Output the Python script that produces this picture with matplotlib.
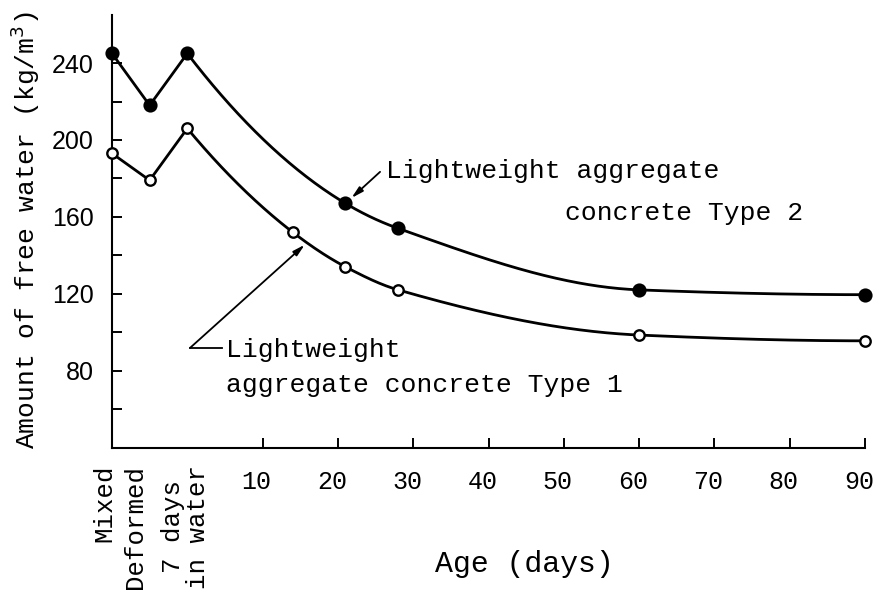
import numpy as np
import matplotlib
matplotlib.use("Agg")
import matplotlib.pyplot as plt
import matplotlib.transforms as mtransforms

# x positions: Mixed=-10, Deformed=-5, 7 days in water=0, then age in days
type1_x = [-10, -5, 0, 14, 21, 28, 60, 90]
type1_y = [193, 179, 206, 152, 134, 122, 98.5, 95.5]
type2_x = [-10, -5, 0, 21, 28, 60, 90]
type2_y = [245, 218, 245, 167, 154, 122, 119.5]

stage_labels = ["Mixed", "Deformed", "7 days\nin water"]
stage_label_x = [-11.0, -6.9, -0.3]
day_ticks = [10, 20, 30, 40, 50, 60, 70, 80, 90]
y_ticks = [60, 80, 100, 120, 140, 160, 180, 200, 220, 240]

plt.rcParams['font.family'] = ['Liberation Mono', 'DejaVu Sans']


def pchip(x, y, xs):
    # monotone cubic through the measured points, only used to draw the line
    x = np.asarray(x, float)
    y = np.asarray(y, float)
    h = np.diff(x)
    d = np.diff(y) / h
    m = np.zeros_like(y)
    for k in range(1, len(x) - 1):
        if d[k - 1] * d[k] > 0:
            w1 = 2 * h[k] + h[k - 1]
            w2 = h[k] + 2 * h[k - 1]
            m[k] = (w1 + w2) / (w1 / d[k - 1] + w2 / d[k])
    m[0] = ((2 * h[0] + h[1]) * d[0] - h[0] * d[1]) / (h[0] + h[1])
    if np.sign(m[0]) != np.sign(d[0]):
        m[0] = 0
    m[-1] = ((2 * h[-1] + h[-2]) * d[-1] - h[-1] * d[-2]) / (h[-1] + h[-2])
    if np.sign(m[-1]) != np.sign(d[-1]):
        m[-1] = 0
    out = np.empty_like(xs)
    idx = np.clip(np.searchsorted(x, xs) - 1, 0, len(x) - 2)
    for j, xv in enumerate(xs):
        k = idx[j]
        t = (xv - x[k]) / h[k]
        h00 = 2 * t**3 - 3 * t**2 + 1
        h10 = t**3 - 2 * t**2 + t
        h01 = -2 * t**3 + 3 * t**2
        h11 = t**3 - t**2
        out[j] = h00 * y[k] + h10 * h[k] * m[k] + h01 * y[k + 1] + h11 * h[k] * m[k + 1]
    return out


def draw_series(ax, xs, ys, face):
    xs = np.asarray(xs, float)
    ys = np.asarray(ys, float)
    # straight segments before immersion, smooth curve afterwards
    early = xs <= 0
    ax.plot(xs[early], ys[early], color='black', lw=2.0, zorder=2)
    late = xs >= 0
    xx = np.linspace(0, xs[late][-1], 400)
    ax.plot(xx, pchip(xs[late], ys[late], xx), color='black', lw=2.0, zorder=2)
    ax.plot(xs, ys, 'o', ms=8.5 if face == 'black' else 7.5, mfc=face,
            mec='black', mew=1.7, zorder=3, clip_on=False)


fig = plt.figure(figsize=(8.77, 5.94), dpi=100)
ax = fig.add_axes([112 / 877, 1 - 447.5 / 594, (865 - 112) / 877, (447.5 - 15) / 594])

draw_series(ax, type1_x, type1_y, 'white')
draw_series(ax, type2_x, type2_y, 'black')

ax.set_xlim(-10, 90)
ax.set_ylim(40, 265)
for s in ['top', 'right']:
    ax.spines[s].set_visible(False)
for s in ['left', 'bottom']:
    ax.spines[s].set_linewidth(1.5)

ax.set_xticks(day_ticks)
ax.set_xticklabels([str(d) for d in day_ticks], fontsize=18, family='Liberation Mono')
ax.set_yticks(y_ticks)
ax.set_yticklabels([str(v) if v % 40 == 0 else '' for v in y_ticks],
                   fontsize=18, family='Liberation Sans')
ax.tick_params(axis='both', direction='in', length=7, width=1.4)
ax.tick_params(axis='x', pad=16)
ax.tick_params(axis='y', pad=13)
shift = mtransforms.ScaledTranslation(-6 / 100, 0, fig.dpi_scale_trans)
for lbl in ax.get_xticklabels():
    lbl.set_transform(lbl.get_transform() + shift)

for lab, lx in zip(stage_labels, stage_label_x):
    ax.text(lx, -0.04, lab, transform=ax.get_xaxis_transform(), rotation=90,
            ha='center', va='top', fontsize=18.5, linespacing=1.05, clip_on=False)

ax.text(44.8, -0.27, "Age (days)", transform=ax.get_xaxis_transform(),
        ha='center', va='center', fontsize=21.5)
fig.text(25 / 877, 1 - 230 / 594, "Amount of free water (kg/m$^3$)", rotation=90,
         ha='center', va='center', fontsize=19)

# labels and leader arrows
ax.annotate('', xy=(21.8, 169.8), xytext=(25.6, 183.4),
            arrowprops=dict(arrowstyle='-|>,head_length=0.7,head_width=0.18',
                            color='black', lw=1.3, shrinkA=0, shrinkB=0))
ax.text(26.4, 183.9, "Lightweight aggregate", ha='left', va='center', fontsize=19)
ax.text(50.2, 162.0, "concrete Type 2", ha='left', va='center', fontsize=19)

ax.plot([0.36, 4.6], [91.8, 91.8], color='black', lw=1.3)
ax.annotate('', xy=(15.6, 145.5), xytext=(0.36, 91.8),
            arrowprops=dict(arrowstyle='-|>,head_length=0.7,head_width=0.18',
                            color='black', lw=1.3, shrinkA=0, shrinkB=0))
ax.text(5.1, 90.8, "Lightweight", ha='left', va='center', fontsize=19)
ax.text(5.1, 72.5, "aggregate concrete Type 1", ha='left', va='center', fontsize=19)

fig.savefig("out.png", dpi=100)
